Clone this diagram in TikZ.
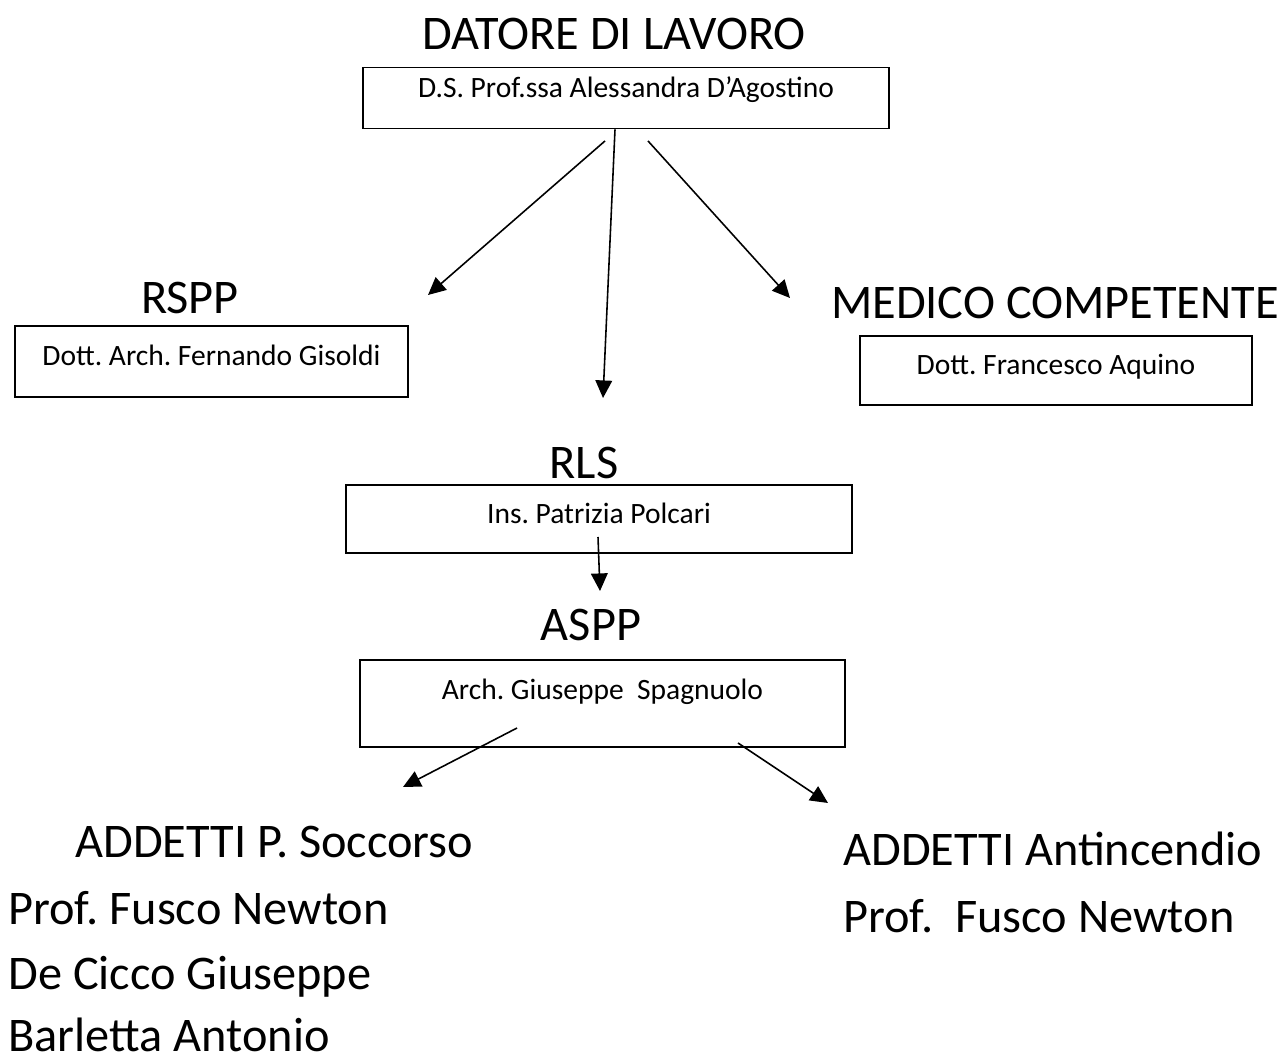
\documentclass[tikz,border=0pt]{standalone}
\usepackage{fontspec}
\setmainfont{Carlito}
\frenchspacing
\usetikzlibrary{arrows.meta,positioning}

\tikzset{
    title/.style={font=\fontsize{27.5}{33}\selectfont, inner sep=0pt, anchor=base},
    nometxt/.style={font=\fontsize{16.8}{20}\selectfont},
    box/.style={nometxt, draw, line width=1.1pt, text height=8pt, text depth=3.4pt},
    lista/.style={font=\fontsize{27.5}{33}\selectfont, anchor=base west, inner sep=0pt},
    freccia/.style={line width=0.9pt, -{Triangle[length=10pt,width=9.5pt]}}
}

\begin{document}
\begin{tikzpicture}[x=0.02cm, y=-0.02cm]
            \useasboundingbox (0,0) rectangle (1286,1061);

            % datore di lavoro
            \node[title] (tdatore) at (614,50) {DATORE DI LAVORO};
            \node[box, minimum width=10.52cm, minimum height=1.22cm, text depth=9pt] (datore) at (626,98) {D.S. Prof.ssa Alessandra D’Agostino};

            % rspp, medico, rls
            \node[title] (trspp) at (190,314) {RSPP};
            \node[box, minimum width=7.86cm, minimum height=1.42cm] (rspp) at (211.5,361.5) {Dott. Arch. Fernando Gisoldi};
            \node[title] (tmedico) at (1055,318) {MEDICO COMPETENTE};
            \node[box, minimum width=7.84cm, minimum height=1.38cm] (medico) at (1056,370.5) {Dott. Francesco Aquino};
            \node[title] (trls) at (584,478) {RLS};
            \node[box, minimum width=10.12cm, minimum height=1.36cm] (rls) at (599,519) {Ins. Patrizia Polcari};

            % aspp
            \node[title] (taspp) at (591,640) {ASPP};
            \node[box, minimum width=9.7cm, minimum height=1.74cm, text depth=12.5pt] (aspp) at (602.5,703.5) {Arch. Giuseppe~~Spagnuolo};

            % addetti
            \node[lista] (soccorso) at (75,857) {ADDETTI P. Soccorso};
            \node[lista] (s1) at (8,924) {Prof. Fusco Newton};
            \node[lista] (s2) at (8,989) {De Cicco Giuseppe};
            \node[lista] (s3) at (8,1051) {Barletta Antonio};
            \node[lista] (antincendio) at (843,865) {ADDETTI Antincendio};
            \node[lista] (a1) at (843,932) {Prof.~~Fusco Newton};

            % punti delle frecce
            \coordinate (p1) at (428,295);
            \coordinate (p2) at (603,398);
            \coordinate (p3) at (790,298);
            \coordinate (p4) at (600,591);
            \coordinate (p5) at (403,787);
            \coordinate (p6) at (828,803);

            \draw[freccia] ([xshift=-0.42cm,yshift=-0.23cm]datore.south) to (p1);
            \draw[freccia] ([xshift=-0.22cm]datore.south) to (p2);
            \draw[freccia] ([xshift=0.44cm,yshift=-0.23cm]datore.south) to (p3);
            \draw[freccia] ([xshift=-0.02cm,yshift=-0.36cm]rls.center) to (p4);
            \draw[freccia] ([xshift=-1.71cm,yshift=-0.49cm]aspp.center) to (p5);
            \draw[freccia] ([xshift=2.71cm,yshift=-0.79cm]aspp.center) to (p6);
        \end{tikzpicture}
\end{document}
